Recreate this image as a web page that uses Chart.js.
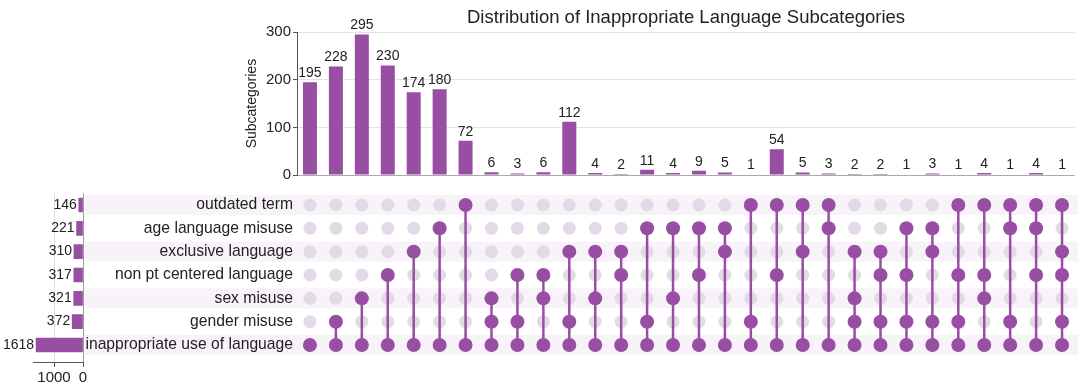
<!DOCTYPE html>
<html>
<head>
<meta charset="utf-8">
<script src="https://cdn.jsdelivr.net/npm/chart.js@4"></script>
<style>
  body { margin: 0; background: #fff; width: 1080px; height: 387px; overflow: hidden; position: relative; }
  canvas { position: absolute; }
  #bars { left: 0; top: 0; }
  #matrix { left: 0; top: 190px; }
  #sizes { left: 0; top: 190px; z-index: 2; }
</style>
</head>
<body>
<canvas id="bars" width="1080" height="190"></canvas>
<canvas id="matrix" width="1080" height="170"></canvas>
<canvas id="sizes" width="90" height="197"></canvas>
<script>
// set names, top to bottom
const setNames = [
  "outdated term",
  "age language misuse",
  "exclusive language",
  "non pt centered language",
  "sex misuse",
  "gender misuse",
  "inappropriate use of language"
];
const setSizes = [146, 221, 310, 317, 321, 372, 1618];

// intersection sizes, one per column
const columnCounts = [195, 228, 295, 230, 174, 180, 72, 6, 3, 6, 112, 4, 2, 11, 4,
                      9, 5, 1, 54, 5, 3, 2, 2, 1, 3, 1, 4, 1, 4, 1];
// which sets (row index) each column contains
const columnSets = [
  [6], [5, 6], [4, 6], [3, 6], [2, 6], [1, 6], [0, 6],
  [4, 5, 6], [3, 5, 6], [3, 4, 6], [2, 5, 6], [2, 4, 6], [2, 3, 6],
  [1, 5, 6], [1, 4, 6], [1, 3, 6], [1, 2, 6],
  [0, 5, 6], [0, 3, 6], [0, 2, 6], [0, 1, 6],
  [2, 4, 5, 6], [2, 3, 5, 6], [1, 3, 5, 6], [1, 2, 5, 6],
  [0, 3, 5, 6], [0, 3, 4, 6], [0, 1, 5, 6], [0, 1, 3, 6],
  [0, 2, 3, 5, 6]
];
const countTicks = [0, 100, 200, 300];
const sizeTicks = [0, 1000];

const purple = "#984ea3";
const faded = "#e3d9e7";
const band = "#f8f3f9";
const family = "'Liberation Sans', Arial, sans-serif";

Chart.defaults.font.family = family;
Chart.defaults.color = "#222";

// stop chart.js from adding room for tick labels at the ends
function noPad(s) {
  s.paddingTop = 0;
  s.paddingBottom = 0;
  s.paddingLeft = 0;
  s.paddingRight = 0;
}

// numbers next to the bars
const valueLabels = {
  id: "valueLabels",
  afterDatasetsDraw(chart, args, opts) {
    const ctx = chart.ctx;
    const meta = chart.getDatasetMeta(0);
    ctx.save();
    ctx.font = opts.size + "px " + family;
    ctx.fillStyle = "#222";
    meta.data.forEach(function (bar, i) {
      const v = opts.values[i];
      if (opts.horizontal) {
        ctx.textAlign = "right";
        ctx.textBaseline = "middle";
        ctx.fillText(v, bar.x - 2, bar.y);
      } else {
        ctx.textAlign = "center";
        ctx.textBaseline = "bottom";
        ctx.fillText(v, bar.x, bar.y - 2);
      }
    });
    ctx.restore();
  }
};

// shaded stripes behind every other row of the matrix
const rowBands = {
  id: "rowBands",
  beforeDraw(chart) {
    const ctx = chart.ctx;
    const y = chart.scales.y;
    const h = 20;
    ctx.save();
    ctx.fillStyle = band;
    for (let i = 0; i < setNames.length; i += 2) {
      const py = y.getPixelForValue(i);
      ctx.fillRect(85, py - h / 2, chart.chartArea.right + 3 - 85, h);
    }
    ctx.restore();
  }
};

// top: intersection size bars
new Chart(document.getElementById("bars"), {
  type: "bar",
  data: {
    labels: columnCounts.map((_, i) => i),
    datasets: [{
      data: columnCounts,
      backgroundColor: purple,
      categoryPercentage: 1,
      barPercentage: 0.54
    }]
  },
  options: {
    responsive: false,
    animation: false,
    layout: { autoPadding: false, padding: { left: 240, right: 5, top: 0, bottom: 15 } },
    plugins: {
      legend: { display: false },
      tooltip: { enabled: false },
      title: {
        display: true,
        text: "Distribution of Inappropriate Language Subcategories",
        fullSize: false,
        color: "#222",
        font: { size: 18.5, weight: "normal" },
        padding: { top: 7, bottom: 3 }
      },
      valueLabels: { values: columnCounts, size: 14 }
    },
    scales: {
      x: { display: false },
      y: {
        min: 0,
        max: 300,
        afterBuildTicks: s => { s.ticks = countTicks.map(v => ({ value: v })); },
        afterFit: s => { s.width = 57; },
        ticks: { font: { size: 15 }, color: "#222", padding: 2 },
        grid: {
          color: c => (c.tick && c.tick.value === 0 ? "#aaa" : "#e3e3e3"),
          tickColor: "#555",
          tickLength: 4
        },
        border: { color: "#555" },
        title: {
          display: true,
          text: "Subcategories",
          font: { size: 14 },
          color: "#222",
          padding: { top: 4, bottom: 0 }
        }
      }
    }
  },
  plugins: [valueLabels]
});

// middle: membership matrix
const allCells = [];
columnCounts.forEach((_, c) => {
  setNames.forEach((_, r) => allCells.push({ x: c, y: r }));
});
const activeCells = [];
const connectors = [];
columnSets.forEach((rows, c) => {
  rows.forEach(r => activeCells.push({ x: c, y: r }));
  if (rows.length > 1) {
    connectors.push({
      type: "line",
      data: [{ x: c, y: Math.min(...rows) }, { x: c, y: Math.max(...rows) }],
      borderColor: purple,
      borderWidth: 2.5,
      pointRadius: 0,
      order: 2
    });
  }
});

new Chart(document.getElementById("matrix"), {
  type: "scatter",
  data: {
    datasets: [
      { data: allCells, pointRadius: 6.5, backgroundColor: faded, borderWidth: 0, order: 3, clip: false },
      ...connectors,
      { data: activeCells, pointRadius: 7, backgroundColor: purple, borderWidth: 0, order: 1, clip: false }
    ]
  },
  options: {
    responsive: false,
    animation: false,
    layout: { autoPadding: false, padding: { left: 0, right: 5, top: 3.3, bottom: 3.3 } },
    plugins: { legend: { display: false }, tooltip: { enabled: false } },
    scales: {
      x: { type: "linear", min: -0.5, max: 29.5, display: false },
      y: {
        type: "linear",
        min: -0.5,
        max: 6.5,
        reverse: true,
        afterBuildTicks: s => { s.ticks = setNames.map((_, i) => ({ value: i })); },
        afterFit: s => { s.width = 297; noPad(s); },
        ticks: {
          autoSkip: false,
          font: { size: 15.7 },
          color: "#222",
          padding: 4,
          callback: v => setNames[v]
        },
        grid: { display: false, drawTicks: false },
        border: { display: false }
      }
    }
  },
  plugins: [rowBands]
});

// left: set size bars
new Chart(document.getElementById("sizes"), {
  type: "bar",
  data: {
    datasets: [{
      data: setSizes.map((v, i) => ({ x: v, y: i })),
      backgroundColor: purple,
      barThickness: 14
    }]
  },
  options: {
    indexAxis: "y",
    responsive: false,
    animation: false,
    layout: { autoPadding: false, padding: { left: 33.7, right: 7, top: 3.3, bottom: 0 } },
    plugins: {
      legend: { display: false },
      tooltip: { enabled: false },
      valueLabels: { values: setSizes, size: 14, horizontal: true }
    },
    scales: {
      x: {
        type: "linear",
        reverse: true,
        min: 0,
        max: 1700,
        afterBuildTicks: s => { s.ticks = sizeTicks.map(v => ({ value: v })); },
        afterFit: s => { s.height = 25; noPad(s); },
        ticks: { font: { size: 15 }, color: "#222", padding: 2, maxRotation: 0, callback: v => String(v) },
        grid: {
          color: c => (c.tick && c.tick.value === 0 ? "#999" : "#ddd"),
          tickColor: "#555",
          tickLength: 5
        },
        border: { color: "#555" }
      },
      y: {
        type: "linear",
        min: -0.5,
        max: 6.73,
        reverse: true,
        offset: false,
        display: false,
        afterFit: noPad
      }
    }
  },
  plugins: [valueLabels]
});
</script>
</body>
</html>
